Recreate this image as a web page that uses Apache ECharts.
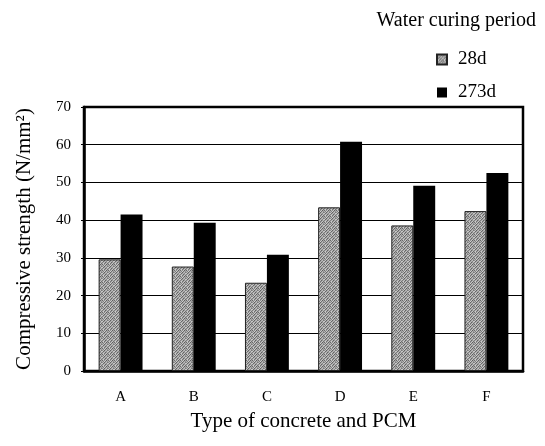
<!DOCTYPE html>
<html>
<head>
<meta charset="utf-8">
<script src="https://cdn.jsdelivr.net/npm/echarts@6/dist/echarts.min.js"></script>
<style>
  html, body { margin: 0; padding: 0; background: #fff; }
  #main { width: 545px; height: 446px; }
</style>
</head>
<body>
<div id="main"></div>
<script>
const categories = ['A', 'B', 'C', 'D', 'E', 'F'];
const days28 = [29.6, 27.7, 23.4, 43.4, 38.6, 42.4];
const days273 = [41.5, 39.3, 30.8, 60.8, 49.1, 52.5];
const yTicks = [0, 10, 20, 30, 40, 50, 60, 70];

// stippled grey texture for the 28d bars
function stipple() {
  const tile = [
    '#6a6a6a', '#b8b8b8', '#8c8c8c', '#c8c8c8', '#5e5e5e', '#a4a4a4',
    '#b0b0b0', '#7e7e7e', '#d0d0d0', '#707070', '#acacac', '#949494',
    '#909090', '#c0c0c0', '#626262', '#a8a8a8', '#bcbcbc', '#787878',
    '#cacaca', '#686868', '#9c9c9c', '#b4b4b4', '#848484', '#c4c4c4',
    '#7c7c7c', '#aaaaaa', '#bebebe', '#646464', '#989898', '#b6b6b6',
    '#a6a6a6', '#cecece', '#747474', '#9a9a9a', '#c6c6c6', '#6e6e6e'
  ];
  const c = document.createElement('canvas');
  c.width = 6; c.height = 6;
  const ctx = c.getContext('2d');
  tile.forEach((col, i) => {
    ctx.fillStyle = col;
    ctx.fillRect(i % 6, Math.floor(i / 6), 1, 1);
  });
  return c;
}

const serif = '"Liberation Serif", "Times New Roman", serif';

const options = {
  animation: false,
  textStyle: { fontFamily: serif, color: '#000' },
  title: {
    text: 'Water curing period',
    right: 4,
    top: 6,
    textStyle: { fontFamily: serif, fontSize: 20, fontWeight: 'normal', color: '#000' }
  },
  legend: {
    orient: 'vertical',
    left: 431,
    top: 45,
    icon: 'rect',
    itemWidth: 10,
    itemHeight: 10,
    itemGap: 14,
    textStyle: { fontFamily: serif, fontSize: 19, color: '#000', padding: [0, 0, 0, 6] },
    data: ['28d', '273d']
  },
  grid: {
    left: 84,
    right: 22,
    top: 107,
    bottom: 75,
    show: true,
    borderColor: '#000',
    borderWidth: 2.5
  },
  xAxis: {
    type: 'category',
    data: categories,
    name: 'Type of concrete and PCM',
    nameLocation: 'middle',
    nameGap: 40,
    nameTextStyle: { fontFamily: serif, fontSize: 21, color: '#000' },
    axisLine: { lineStyle: { color: '#000', width: 2.5 } },
    axisTick: { show: false },
    axisLabel: { fontFamily: serif, fontSize: 15, color: '#000', margin: 19 }
  },
  yAxis: {
    type: 'value',
    min: yTicks[0],
    max: yTicks[yTicks.length - 1],
    interval: 10,
    name: 'Compressive strength (N/mm²)',
    nameLocation: 'middle',
    nameGap: 49,
    nameTextStyle: { fontFamily: serif, fontSize: 21, color: '#000' },
    axisLine: { show: true, lineStyle: { color: '#000', width: 2.5 } },
    axisTick: { show: true, length: 3, inside: false, lineStyle: { color: '#000' } },
    axisLabel: { fontFamily: serif, fontSize: 15, color: '#000', margin: 13 },
    splitLine: { lineStyle: { color: '#000', width: 1 } }
  },
  series: [
    {
      name: '28d',
      type: 'bar',
      data: days28,
      barGap: '0%',
      barCategoryGap: '40%',
      itemStyle: {
        color: { image: stipple(), repeat: 'repeat' },
        borderColor: '#222',
        borderWidth: 1
      }
    },
    {
      name: '273d',
      type: 'bar',
      data: days273,
      itemStyle: { color: '#000' }
    }
  ]
};

const myChart = echarts.init(document.getElementById('main'));
myChart.setOption(options);
</script>
</body>
</html>
